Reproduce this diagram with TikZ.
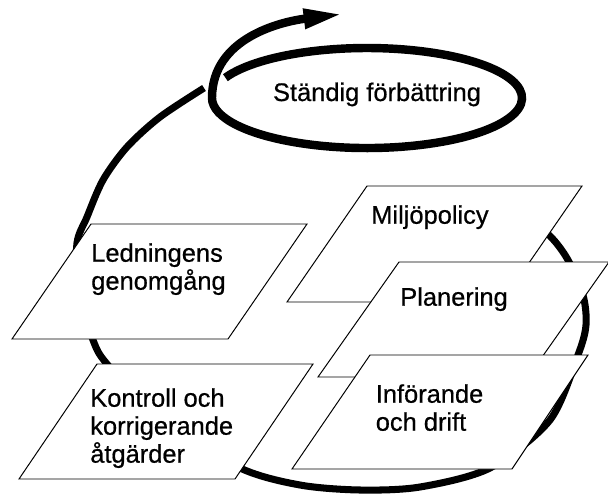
\documentclass[tikz,border=0pt]{standalone}
\usepackage{fontspec}
\setmainfont{Liberation Sans}
\usetikzlibrary{arrows.meta}
\pgfdeclarelayer{bg}
\pgfsetlayers{bg,main}
\tikzset{
    every node/.style={inner sep=0mm, align=left, font=\fontsize{18.1pt}{19.9pt}\selectfont\addfontfeature{FakeBold=0.6}}
}
\tikzset{plate/.style={draw, line width=0.7pt, fill=white}}
\tikzset{bigloop/.style={line width=5pt}}
\tikzset{smallloop/.style={line width=6pt, -{Triangle[length=28pt, width=13pt]}}}

\begin{document}
\begin{tikzpicture}
        \useasboundingbox (0cm, 0cm) rectangle (15.200000cm, -12.400000cm);
        \begin{pgfonlayer}{bg}
                \draw [bigloop] plot [smooth] coordinates {(13.000000cm, -5.300000cm) (13.750000cm, -5.900000cm) (14.200000cm, -6.500000cm) (14.575000cm, -7.375000cm) (14.650000cm, -8.125000cm) (14.450000cm, -8.875000cm) (13.750000cm, -10.500000cm) (12.250000cm, -11.700000cm) (10.500000cm, -12.175000cm) (9.000000cm, -12.250000cm) (7.500000cm, -12.125000cm) (6.000000cm, -11.700000cm) (4.000000cm, -10.500000cm) (2.675000cm, -9.100000cm) (2.325000cm, -8.500000cm) (1.950000cm, -7.250000cm) (1.925000cm, -6.075000cm) (2.175000cm, -5.425000cm) (2.575000cm, -4.500000cm) (3.175000cm, -3.675000cm) (4.000000cm, -2.925000cm) (5.100000cm, -2.200000cm)};
        \end{pgfonlayer}
        \draw [smallloop] (5.635000cm, -1.942000cm) arc [start angle=156, end angle=-180, x radius=3.875cm, y radius=1.25cm] to [out=90, in=187] (8.575000cm, -0.350000cm);
        \node (stand) [anchor=base] at (9.425000cm, -2.525000cm) {Ständig förbättring};
        \draw [plate] (2.275000cm, -5.600000cm) -- (7.675000cm, -5.600000cm) -- (5.700000cm, -8.475000cm) -- (0.300000cm, -8.475000cm) -- cycle;
        \node (ledn) [anchor=north west] at (2.275000cm, -6.075000cm) {Ledningens\\genomgång};
        \draw [plate] (2.425000cm, -9.100000cm) -- (7.825000cm, -9.100000cm) -- (5.875000cm, -11.975000cm) -- (0.475000cm, -11.975000cm) -- cycle;
        \node (kontr) [anchor=north west] at (2.250000cm, -9.700000cm) {Kontroll och\\korrigerande\\åtgärder};
        \draw [plate] (9.175000cm, -4.650000cm) -- (14.550000cm, -4.650000cm) -- (12.550000cm, -7.550000cm) -- (7.175000cm, -7.550000cm) -- cycle;
        \node (miljo) [anchor=north west] at (9.275000cm, -5.125000cm) {Miljöpolicy};
        \draw [plate] (9.975000cm, -6.550000cm) -- (15.225000cm, -6.550000cm) -- (13.200000cm, -9.425000cm) -- (7.950000cm, -9.425000cm) -- cycle;
        \node (plan) [anchor=north west] at (10.000000cm, -7.175000cm) {Planering};
        \draw [plate] (9.250000cm, -8.875000cm) -- (14.700000cm, -8.875000cm) -- (12.800000cm, -11.725000cm) -- (7.300000cm, -11.725000cm) -- cycle;
        \node (infor) [anchor=north west] at (9.387500cm, -9.600000cm) {Införande\\och drift};
\end{tikzpicture}
\end{document}
